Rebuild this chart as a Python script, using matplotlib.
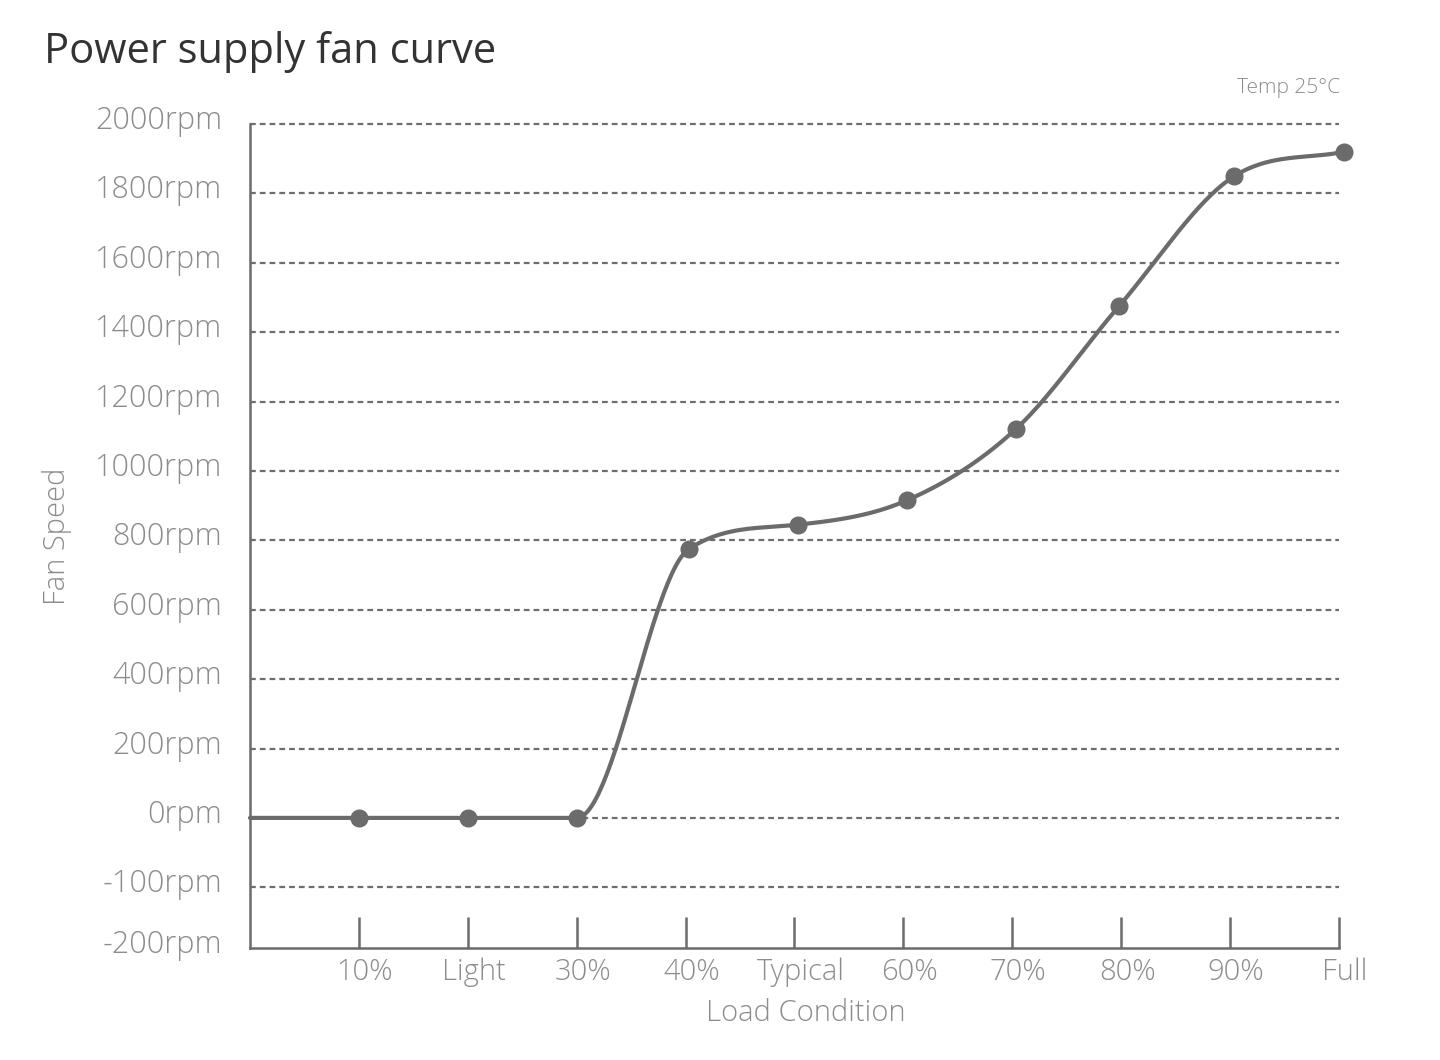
import numpy as np
import matplotlib
matplotlib.use('Agg')
import matplotlib.pyplot as plt
from matplotlib.transforms import ScaledTranslation

# data
load_labels = ['10%', 'Light', '30%', '40%', 'Typical', '60%', '70%', '80%', '90%', 'Full']
load_pos = [1, 2, 3, 4.03, 5.03, 6.03, 7.03, 7.98, 9.04, 10.05]
fan_rpm = [0, 0, 0, 775, 845, 915, 1120, 1475, 1850, 1920]
start_pos = 0
start_rpm = 0

y_ticks = [2000, 1800, 1600, 1400, 1200, 1000, 800, 600, 400, 200, 0, -200, -375]
y_labels = ['2000rpm', '1800rpm', '1600rpm', '1400rpm', '1200rpm', '1000rpm', '800rpm',
            '600rpm', '400rpm', '200rpm', '0rpm', '-100rpm', '-200rpm']
x_ticks = [1, 2, 3, 4, 5, 6, 7, 8, 9, 10]

LINE = '#6b6b6b'
TEXT = '#8c8c8c'


def monotone_curve(x, y, n=60):
    # Fritsch-Carlson monotone cubic, just for drawing the smooth line
    x = np.asarray(x, float); y = np.asarray(y, float)
    h = np.diff(x); d = np.diff(y) / h
    m = np.zeros_like(x)
    m[0] = d[0]; m[-1] = d[-1]
    for i in range(1, len(x) - 1):
        if d[i - 1] * d[i] <= 0:
            m[i] = 0
        else:
            m[i] = (d[i - 1] + d[i]) / 2
    for k in range(len(d)):
        if d[k] == 0:
            m[k] = m[k + 1] = 0
            continue
        a = m[k] / d[k]; b = m[k + 1] / d[k]
        s = a * a + b * b
        if s > 9:
            t = 3 / np.sqrt(s)
            m[k] = t * a * d[k]; m[k + 1] = t * b * d[k]
    xs, ys = [], []
    for k in range(len(d)):
        t = np.linspace(0, 1, n)
        h00 = 2*t**3 - 3*t**2 + 1; h10 = t**3 - 2*t**2 + t
        h01 = -2*t**3 + 3*t**2; h11 = t**3 - t**2
        xs.append(x[k] + t * h[k])
        ys.append(h00*y[k] + h10*h[k]*m[k] + h01*y[k+1] + h11*h[k]*m[k+1])
    return np.concatenate(xs), np.concatenate(ys)


plt.rcParams['font.family'] = ['Open Sans', 'DejaVu Sans']

fig = plt.figure(figsize=(14.4, 10.6), dpi=100)
ax = fig.add_axes([250/1440, 112/1060, 1089/1440, 824/1060])

cx, cy = monotone_curve([start_pos] + load_pos, [start_rpm] + fan_rpm)
ax.plot(cx, cy, color=LINE, lw=3, solid_capstyle='round', clip_on=False, zorder=4)
ax.plot(load_pos, fan_rpm, 'o', color=LINE, ms=12, clip_on=False, zorder=5)

ax.set_xlim(0, 10)
ax.set_ylim(-375, 2000)

for v in y_ticks[:-1]:
    ax.axhline(v, color='#6e6e6e', lw=1.6, dashes=(2.6, 1.8), clip_on=False, zorder=1)

ax.set_yticks(y_ticks)
ax.set_yticklabels(y_labels)
ax.set_xticks(x_ticks)
ax.set_xticklabels(load_labels)

ax.tick_params(axis='y', length=0, pad=20, labelsize=22, labelcolor=TEXT)
ax.tick_params(axis='x', direction='in', length=22, width=1.8, color=LINE,
               pad=7, labelsize=21, labelcolor=TEXT)
for lbl in ax.get_yticklabels():
    lbl.set_fontweight('light')
    lbl.set_transform(lbl.get_transform() + ScaledTranslation(0, 7/100, fig.dpi_scale_trans))
for lbl in ax.get_xticklabels():
    lbl.set_fontweight('light')
    lbl.set_transform(lbl.get_transform() + ScaledTranslation(6/100, 0, fig.dpi_scale_trans))

for s in ['top', 'right']:
    ax.spines[s].set_visible(False)
for s in ['left', 'bottom']:
    ax.spines[s].set_color(LINE)
    ax.spines[s].set_linewidth(1.8)

fig.text(44/1440, 1 - 52/1060, 'Power supply fan curve', fontsize=30, color='#333333',
         ha='left', va='center')
fig.text(1340/1440, 1 - 88/1060, 'Temp 25°C', fontsize=15, color=TEXT,
         ha='right', va='center', fontweight='light')
fig.text(57/1440, 1 - 536/1060, 'Fan Speed', fontsize=21, color=TEXT,
         rotation=90, ha='center', va='center', fontweight='light')
fig.text(806/1440, 1 - 1013/1060, 'Load Condition', fontsize=21, color=TEXT,
         ha='center', va='center', fontweight='light')

fig.savefig('out.png', dpi=100, facecolor='white')
